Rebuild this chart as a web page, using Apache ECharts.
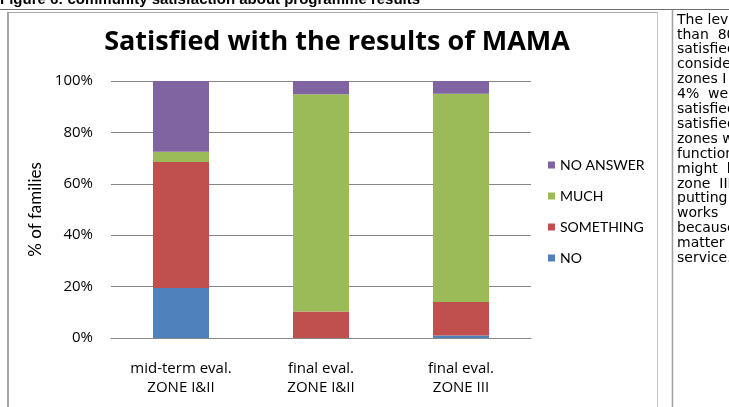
<!DOCTYPE html>
<html>
<head>
<meta charset="utf-8">
<script src="https://cdn.jsdelivr.net/npm/echarts@6/dist/echarts.min.js"></script>
<style>
  html, body { margin: 0; padding: 0; background: #fff; }
  #chart { width: 729px; height: 407px; }
</style>
</head>
<body>
<div id="chart"></div>
<script>
// categories and values (percent of families)
let categories = ['mid-term eval.\nZONE I&II', 'final eval.\nZONE I&II', 'final eval.\nZONE III'];
let noValues = [19.5, 0, 1];
let somethingValues = [49, 10.3, 13];
let muchValues = [4, 84.5, 81];
let noAnswerValues = [27.5, 5.2, 5];
let yTicks = [0, 20, 40, 60, 80, 100];

// side column text, cut by the page edge
let sideText = ['The level', 'than  80%', 'satisfied', 'considered', 'zones I', '4%  were', 'satisfied', 'satisfied',
    'zones with', 'functioning', 'might  be', 'zone  III', 'putting', 'works', 'because', 'matter', 'service.'];

let colors = ['#4F81BD', '#C0504D', '#9BBB59', '#8064A2'];
let wideFont = 'Open Sans';
let chartFont = 'Lato';

let chart = echarts.init(document.getElementById('chart'), null, {renderer: 'canvas'});

function makeSeries(name, data, color) {
    return {
        name: name,
        type: 'bar',
        stack: 'total',
        barWidth: '40%',
        itemStyle: {color: color},
        data: data
    };
}

let graphics = [
    // figure caption, cut at the top
    {type: 'text', left: 0, top: -8, z: 10, style: {
        text: 'Figure 6: community satisfaction about programme results',
        font: 'bold 15px "Liberation Sans"', fill: '#000'
    }},
    // table rule and borders
    {type: 'line', shape: {x1: 0, y1: 9.5, x2: 729, y2: 9.5}, style: {stroke: '#6e6e6e', lineWidth: 1}},
    {type: 'line', shape: {x1: 8, y1: 12, x2: 8, y2: 407}, style: {stroke: '#a6a6a6', lineWidth: 2}},
    {type: 'line', shape: {x1: 8, y1: 12.5, x2: 658, y2: 12.5}, style: {stroke: '#a6a6a6', lineWidth: 1}},
    {type: 'line', shape: {x1: 657.5, y1: 12, x2: 657.5, y2: 407}, style: {stroke: '#c8c8c8', lineWidth: 1}},
    {type: 'line', shape: {x1: 672.5, y1: 10, x2: 672.5, y2: 407}, style: {stroke: '#a0a0a0', lineWidth: 1.5}}
];
sideText.forEach((line, i) => {
    graphics.push({type: 'text', left: 677, top: 13 + i * 14.9, style: {
        text: line, font: '14px "DejaVu Sans"', fill: '#000'
    }});
});

let option = {
    backgroundColor: '#fff',
    animation: false,
    color: colors,
    title: {
        text: 'Satisfied with the results of MAMA',
        left: 332,
        top: 24,
        textAlign: 'center',
        textStyle: {fontFamily: wideFont, fontWeight: 'bold', fontSize: 27, color: '#000'}
    },
    legend: {
        orient: 'vertical',
        left: 543,
        top: 153,
        itemWidth: 7,
        itemHeight: 7,
        itemGap: 17,
        icon: 'rect',
        data: ['NO ANSWER', 'MUCH', 'SOMETHING', 'NO'],
        textStyle: {fontFamily: chartFont, fontSize: 14, color: '#000', lineHeight: 14}
    },
    grid: {left: 111, right: 198, top: 81, bottom: 69},
    xAxis: {
        type: 'category',
        data: categories,
        axisTick: {show: false},
        axisLine: {lineStyle: {color: '#868686'}},
        axisLabel: {fontFamily: wideFont, fontSize: 15, color: '#000', lineHeight: 19, margin: 21}
    },
    yAxis: {
        type: 'value',
        min: yTicks[0],
        max: yTicks[yTicks.length - 1],
        interval: 20,
        name: '% of families',
        nameLocation: 'middle',
        nameGap: 67,
        nameTextStyle: {fontFamily: chartFont, fontSize: 17, color: '#000'},
        axisLabel: {formatter: '{value}%', fontFamily: wideFont, fontSize: 15, color: '#000', margin: 18},
        splitLine: {lineStyle: {color: '#868686'}}
    },
    series: [
        makeSeries('NO', noValues, colors[0]),
        makeSeries('SOMETHING', somethingValues, colors[1]),
        makeSeries('MUCH', muchValues, colors[2]),
        makeSeries('NO ANSWER', noAnswerValues, colors[3])
    ],
    graphic: graphics
};

chart.setOption(option);
</script>
</body>
</html>
